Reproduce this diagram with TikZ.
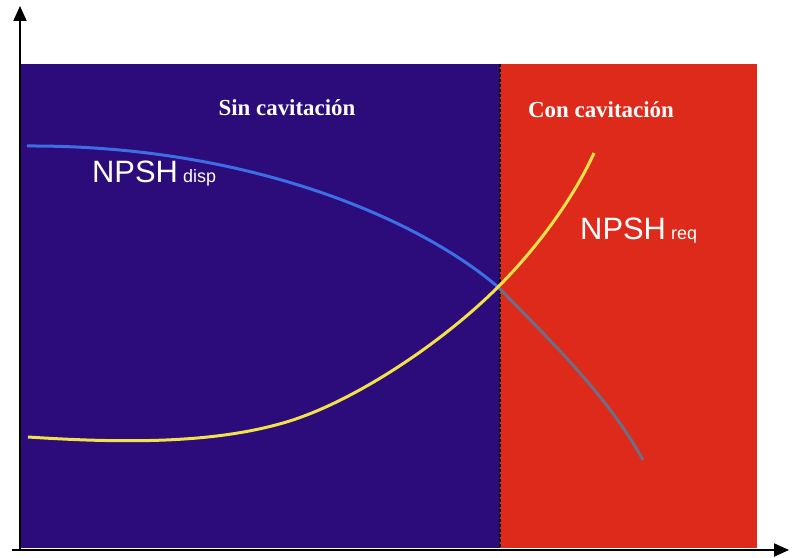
\documentclass[tikz,border=0pt]{standalone}
\usepackage{fontspec}
\setmainfont{Liberation Serif}
\setsansfont{Liberation Sans}
\usetikzlibrary{arrows.meta}
\definecolor{sinfondo}{HTML}{2B0C7A}
\definecolor{confondo}{HTML}{DE2A1A}
\definecolor{dispazul}{HTML}{3C6EE6}
\definecolor{reqamar}{HTML}{F2E24A}
\definecolor{dispgris}{HTML}{6E6E88}
\begin{document}
\begin{tikzpicture}[x=1bp,y=-1bp]
    \tikzstyle{every node}=[inner sep=0pt,text=white]
    \tikzstyle{zona}=[font=\fontsize{23}{23}\selectfont\bfseries]
    \tikzstyle{npsh}=[font=\sffamily\fontsize{31}{31}\selectfont,anchor=base west]
    \tikzstyle{eje}=[line width=2bp,-{Triangle[length=15bp,width=13bp]}]
    \useasboundingbox(0,0)rectangle(795,558);
    \fill[sinfondo](20,64)rectangle(500,548);
    \fill[confondo](500,64)rectangle(757,548);
    \coordinate(arriba)at(500,64); \coordinate(abajo)at(500,548);
    \coordinate(cruce)at(498,287);
    \draw[line width=1.6bp,dash pattern=on 3bp off 2bp](arriba)--(abajo);
    % curvas
    \draw[dispazul,line width=3bp](27,146)..controls(250,145)and(420,220)..(cruce);
    \draw[dispgris,line width=3bp](cruce)..controls(560,350)and(610,400)..(643,460);
    \draw[reqamar,line width=3bp](28,437)..controls(120,443)and(210,444)..(283,423)
          ..controls(350,404)and(440,345)..(cruce)
          ..controls(540,245)and(575,195)..(594,153);
    \draw node[zona](sin)at(287,108){Sin cavitación}
          node[zona](con)at(601,110){Con cavitación}
          node[npsh](disp)at(92,183){NPSH\,{\fontsize{18}{18}\selectfont disp}}
          node[npsh](req)at(580,240){NPSH\,{\fontsize{18}{18}\selectfont req}};
    % ejes
    \coordinate(origen)at(20,550); \coordinate(ytop)at(20,6);
    \coordinate(xini)at(12,550); \coordinate(xfin)at(789,550);
    \draw[eje](origen)--(ytop);
    \draw[eje](xini)--(xfin);
\end{tikzpicture}
\end{document}
